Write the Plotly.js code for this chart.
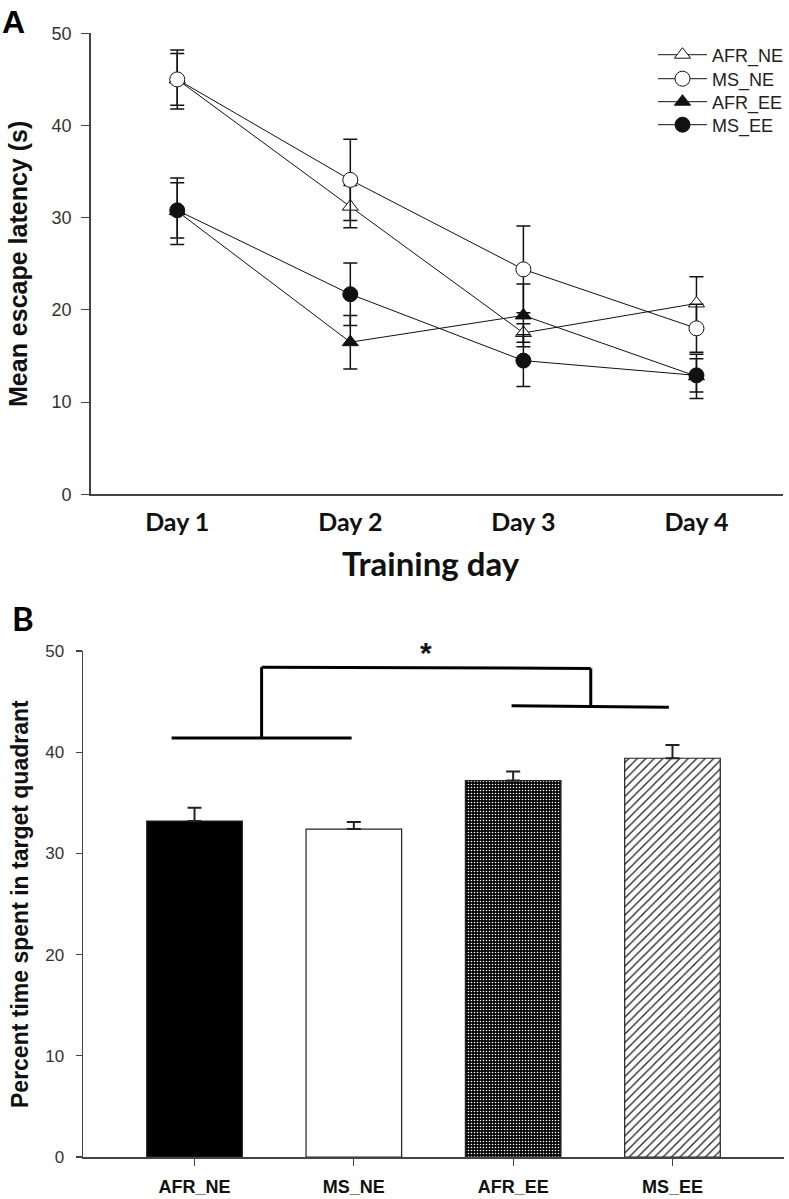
<!DOCTYPE html>
<html>
<head>
<meta charset="utf-8">
<script src="https://cdn.plot.ly/plotly-3.0.1.min.js"></script>
<style>
  html, body { margin: 0; padding: 0; background: #fff; }
  #chart { width: 789px; height: 1199px; }
</style>
</head>
<body>
<div id="chart"></div>
<script>
// ---------- Panel A data ----------
const days = ['Day 1', 'Day 2', 'Day 3', 'Day 4'];
const afrNE = [45.0, 31.2, 17.5, 20.7];
const afrNEse = [2.8, 2.3, 1.0, 2.9];
const msNE = [45.0, 34.1, 24.4, 18.0];
const msNEse = [3.2, 4.4, 4.7, 2.6];
const afrEE = [30.7, 16.5, 19.4, 12.8];
const afrEEse = [3.6, 2.9, 3.4, 2.4];
const msEE = [30.8, 21.7, 14.5, 12.9];
const msEEse = [3.0, 3.4, 2.8, 1.8];
const yTicksA = [0, 10, 20, 30, 40, 50];

// ---------- Panel B data ----------
const groups = ['AFR_NE', 'MS_NE', 'AFR_EE', 'MS_EE'];
const pctTime = [33.2, 32.4, 37.2, 39.4];
const pctTimeSe = [1.3, 0.7, 0.9, 1.3];
const yTicksB = [0, 10, 20, 30, 40, 50];

// significance bracket (data units of panel B)
const bracketLeftGroup = [-0.144, 0.986, 41.4];   // x0, x1, y
const bracketRightGroup = [1.99, 2.977, 44.6];
const bracketTop = [0.421, 2.487, 48.4];
const sigMark = '*';

const ARIAL = 'Liberation Sans, Arial, sans-serif';
const CAL = 'Lato, Carlito, Calibri, sans-serif';
const INK = '#111';

const W = 789, H = 1199;
const px = v => v / W;
const py = v => 1 - v / H;

function lineTrace(name, y, se, symbol, fill, legendId) {
  return {
    type: 'scatter', mode: 'lines+markers', name: name, legend: legendId,
    x: days, y: y, xaxis: 'x', yaxis: 'y',
    line: {color: INK, width: 1},
    marker: {symbol: symbol, size: symbol.indexOf('triangle') === 0 ? 14 : 15,
             color: fill, line: {color: INK, width: 1}},
    error_y: {type: 'data', array: se, visible: true, color: INK, thickness: 1.5, width: 7},
    cliponaxis: false
  };
}

// bar fill styles per group
const barStyles = [
  {color: '#000'},
  {color: '#fff'},
  {color: '#000', pattern: {shape: '.', fgcolor: '#fff', bgcolor: '#000', size: 3, solidity: 0.22, fillmode: 'replace'}},
  {color: '#fff', pattern: {shape: '/', fgcolor: '#222', bgcolor: '#fff', size: 6, solidity: 0.22, fillmode: 'replace'}}
];

const barTraces = groups.map((g, i) => ({
  type: 'bar', x: [g], y: [pctTime[i]], xaxis: 'x2', yaxis: 'y2', width: 0.6,
  name: g, showlegend: false,
  marker: Object.assign({line: {color: '#222', width: 1.2}}, barStyles[i]),
  error_y: {type: 'data', symmetric: false, array: [pctTimeSe[i]], arrayminus: [0],
            visible: true, color: '#222', thickness: 2, width: 7}
}));

const traces = [
  lineTrace('AFR_NE', afrNE, afrNEse, 'triangle-up', '#fff', 'legend'),
  lineTrace('MS_NE', msNE, msNEse, 'circle', '#fff', 'legend2'),
  lineTrace('AFR_EE', afrEE, afrEEse, 'triangle-up', INK, 'legend3'),
  lineTrace('MS_EE', msEE, msEEse, 'circle', INK, 'legend4')
].concat(barTraces);

function legendAt(yPix) {
  return {
    x: px(653), y: py(yPix), xanchor: 'left', yanchor: 'middle',
    bgcolor: 'rgba(0,0,0,0)', borderwidth: 0,
    font: {family: ARIAL, size: 18, color: '#222'},
    itemwidth: 49
  };
}

const layout = {
  width: W, height: H,
  margin: {l: 0, r: 0, t: 0, b: 0},
  paper_bgcolor: '#fff', plot_bgcolor: 'rgba(0,0,0,0)',
  showlegend: true,
  barmode: 'overlay',
  legend: legendAt(55),
  legend2: legendAt(79),
  legend3: legendAt(102),
  legend4: legendAt(125),
  xaxis: {
    domain: [px(90.7), px(783)], anchor: 'y',
    type: 'category', range: [-0.5, 3.5],
    showline: true, linecolor: '#444', linewidth: 1.5,
    ticks: '', showgrid: false, zeroline: false,
    ticklabelstandoff: 5,
    tickfont: {family: CAL, size: 25, color: '#111', weight: 'bold'}
  },
  yaxis: {
    domain: [py(494.3), py(33.3)], anchor: 'x',
    range: [0, 50], tickvals: yTicksA,
    showline: true, linecolor: '#444', linewidth: 1.5,
    ticks: 'outside', ticklen: 8, tickwidth: 1.2, tickcolor: '#444',
    showgrid: false, zeroline: false,
    ticklabelstandoff: 6,
    tickfont: {family: ARIAL, size: 18, color: '#333'}
  },
  xaxis2: {
    domain: [px(83), px(784)], anchor: 'y2',
    type: 'category', categoryorder: 'array', categoryarray: groups,
    range: [-0.7, 3.7],
    showline: true, linecolor: '#444', linewidth: 1.5,
    ticks: 'outside', ticklen: 7, tickwidth: 1.2, tickcolor: '#444',
    showgrid: false, zeroline: false,
    ticklabelstandoff: 6,
    tickfont: {family: ARIAL, size: 18, color: '#111', weight: 'bold'}
  },
  yaxis2: {
    domain: [py(1157), py(651)], anchor: 'x2',
    range: [0, 50], tickvals: yTicksB,
    showline: true, linecolor: '#444', linewidth: 1.5,
    ticks: 'outside', ticklen: 6, tickwidth: 1.2, tickcolor: '#444',
    showgrid: false, zeroline: false,
    ticklabelstandoff: 8,
    tickfont: {family: ARIAL, size: 17, color: '#333'}
  },
  shapes: [
    {type: 'line', xref: 'x2', yref: 'y2', x0: bracketLeftGroup[0], x1: bracketLeftGroup[1],
     y0: bracketLeftGroup[2], y1: bracketLeftGroup[2], line: {color: '#000', width: 3}},
    {type: 'line', xref: 'x2', yref: 'y2', x0: bracketRightGroup[0], x1: bracketRightGroup[1],
     y0: bracketRightGroup[2], y1: bracketRightGroup[2] - 0.15, line: {color: '#000', width: 3}},
    {type: 'line', xref: 'x2', yref: 'y2', x0: bracketTop[0], x1: bracketTop[0],
     y0: bracketLeftGroup[2], y1: bracketTop[2], line: {color: '#000', width: 3}},
    {type: 'line', xref: 'x2', yref: 'y2', x0: bracketTop[0], x1: bracketTop[1],
     y0: bracketTop[2], y1: bracketTop[2] - 0.12, line: {color: '#000', width: 3}},
    {type: 'line', xref: 'x2', yref: 'y2', x0: bracketTop[1], x1: bracketTop[1],
     y0: bracketTop[2] - 0.12, y1: bracketRightGroup[2], line: {color: '#000', width: 3}}
  ],
  annotations: [
    {text: '<b>A</b>', xref: 'paper', yref: 'paper', x: px(0), y: py(2),
     xanchor: 'left', yanchor: 'top', showarrow: false,
     font: {family: ARIAL, size: 32, color: '#000'}},
    {text: '<b>B</b>', xref: 'paper', yref: 'paper', x: px(10), y: py(596),
     xanchor: 'left', yanchor: 'top', showarrow: false,
     font: {family: CAL, size: 33, color: '#000'}},
    {text: '<b>Mean escape latency (s)</b>', xref: 'paper', yref: 'paper',
     x: px(18), y: py(264), xanchor: 'center', yanchor: 'middle', textangle: -90,
     showarrow: false, font: {family: ARIAL, size: 25, color: '#111'}},
    {text: '<b>Training day</b>', xref: 'paper', yref: 'paper',
     x: px(431), y: py(563), xanchor: 'center', yanchor: 'middle',
     showarrow: false, font: {family: CAL, size: 33, color: '#111'}},
    {text: '<b>Percent time spent in target quadrant</b>', xref: 'paper', yref: 'paper',
     x: px(20), y: py(904), xanchor: 'center', yanchor: 'middle', textangle: -90,
     showarrow: false, font: {family: ARIAL, size: 23, color: '#111'}},
    {text: '<b>' + sigMark + '</b>', xref: 'paper', yref: 'paper',
     x: px(426), y: py(652), xanchor: 'center', yanchor: 'middle',
     showarrow: false, font: {family: ARIAL, size: 30, color: '#111'}}
  ]
};

Plotly.newPlot('chart', traces, layout, {displayModeBar: false, staticPlot: true});
</script>
</body>
</html>
